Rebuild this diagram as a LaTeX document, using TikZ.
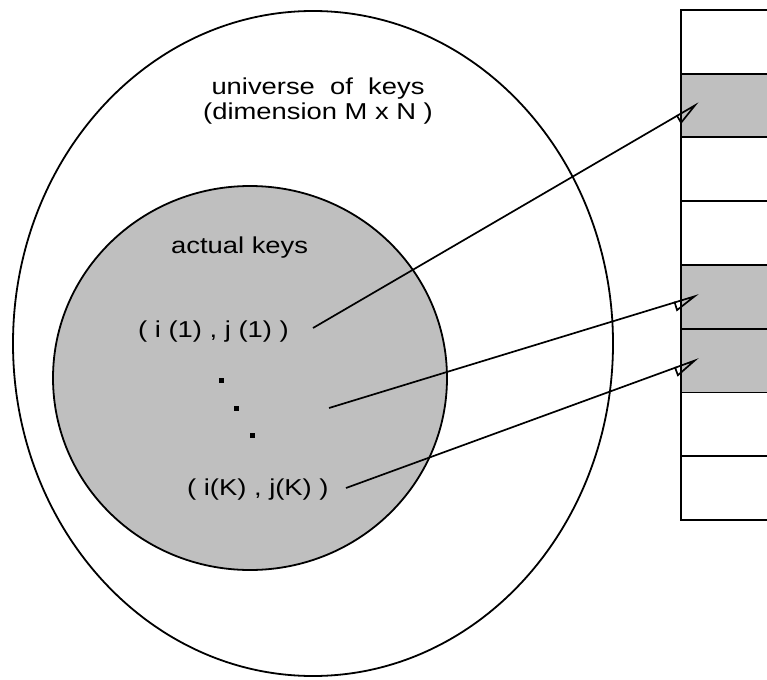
\documentclass[tikz,border=0pt]{standalone}
\usepackage{fontspec}
\setmainfont{Liberation Sans}
\newfontfamily\lblfont[FakeStretch=1.19]{Liberation Sans}
\usetikzlibrary{arrows.meta}
\begin{document}
\begin{tikzpicture}[x=1pt,y=-1pt,
  lbl/.style={inner sep=0pt,font=\lblfont\fontsize{23}{27}\selectfont},
  keyarrow/.style={line width=1.7pt,-{Triangle[open,harpoon,swap,length=24pt,width=18pt,line width=1.7pt]}},
  outline/.style={line width=1.8pt},
  slot/.style={draw,line width=1.8pt,minimum width=100pt,minimum height=63.75pt,inner sep=0pt,anchor=north west},
  used/.style={slot,fill=black!25}]
\useasboundingbox (0,0) rectangle (767,679);
% universe of keys and the subset of actual keys
\draw[outline] (313,343.5) ellipse [x radius=300,y radius=332.5];
\draw[outline,fill=black!25] (250,378) ellipse [x radius=197,y radius=192];
\node[lbl,anchor=base] (univ) at (318,95) {universe\ \ of\ \ keys};
\node[lbl,anchor=base] (dim) at (318,120) {(dimension M x N )};
\node[lbl,anchor=base west] (act) at (171,253) {actual keys};
\node[lbl,anchor=base west] (k1) at (138,337) {( i (1) , j (1) )};
\node[lbl,anchor=base west] (kK) at (187,495) {( i(K) , j(K) )};
\fill (219,378) rectangle ++(4.5,4.5);
\fill (234,406) rectangle ++(4.5,4.5);
\fill (250,433) rectangle ++(4.5,4.5);
% hash table slots
\foreach \r/\s in {0/slot,1/used,2/slot,3/slot,4/used,5/used,6/slot,7/slot}
  \node[\s] (t\r) at (680,9+63.75*\r) {};
% arrow tails and tips
\coordinate (a1) at (313,328);
\coordinate (a2) at (329,408);
\coordinate (a3) at (346,488);
\coordinate (b1) at (699,103);
\coordinate (b2) at (699,295);
\coordinate (b3) at (699,359);
\draw[keyarrow] (a1) -- (b1);
\draw[keyarrow] (a2) -- (b2);
\draw[keyarrow] (a3) -- (b3);
\end{tikzpicture}
\end{document}
